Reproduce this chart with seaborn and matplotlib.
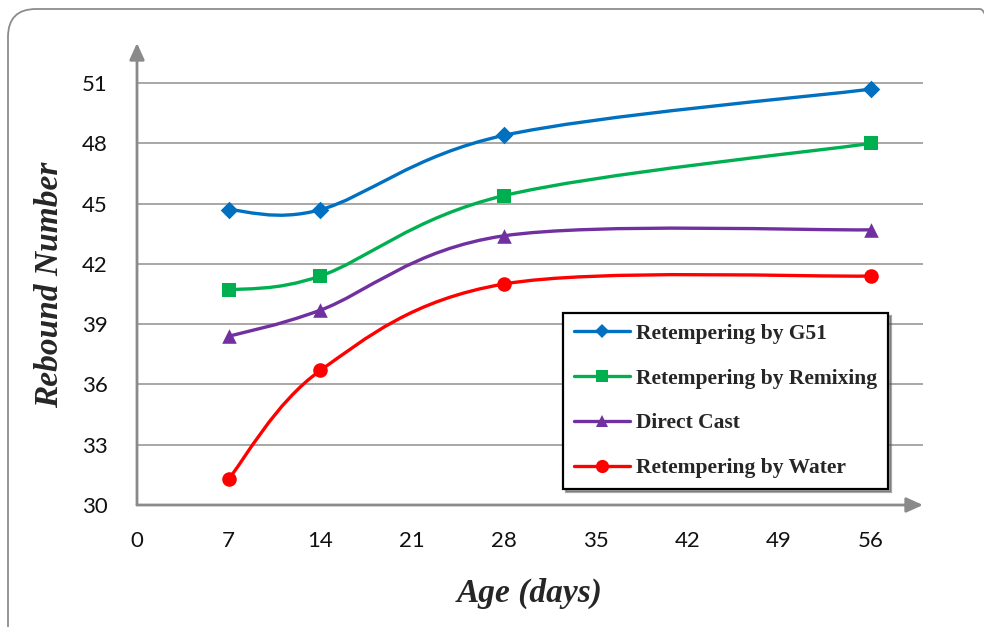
import numpy as np
import pandas as pd
import matplotlib
matplotlib.use("Agg")
import matplotlib.pyplot as plt
import seaborn as sns
from matplotlib.path import Path
from matplotlib.patches import PathPatch, FancyBboxPatch
from matplotlib.lines import Line2D

# ---- data ----
ages = [7, 14, 28, 56]
g51 = [44.7, 44.7, 48.4, 50.7]
remixing = [40.7, 41.4, 45.4, 48.0]
direct_cast = [38.4, 39.7, 43.4, 43.7]
water = [31.3, 36.7, 41.0, 41.4]

series_names = ["Retempering by G51", "Retempering by Remixing",
                "Direct Cast", "Retempering by Water"]
series_values = [g51, remixing, direct_cast, water]
colors = ["#0070C0", "#00B050", "#7030A0", "#FF0000"]
markers = ["D", "s", "^", "o"]
marker_area = [80, 90, 110, 110]
marker_sizes = [7.5, 8.5, 9, 9.5]

x_ticks = [0, 7, 14, 21, 28, 35, 42, 49, 56]
y_ticks = [30, 33, 36, 39, 42, 45, 48, 51]

sns.set_style("white")
plt.rcParams["font.family"] = ["Lato", "DejaVu Sans"]

fig = plt.figure(figsize=(9.84, 6.27), dpi=100)
ax = fig.add_axes([137 / 984, 1 - 505 / 627, (923 - 137) / 984, (505 - 43) / 627])

# rounded outer frame
frame = FancyBboxPatch((0.08, -0.4), 10.0, 6.18 + 0.4,
                       boxstyle="round,pad=0,rounding_size=0.28",
                       transform=fig.dpi_scale_trans, fill=False,
                       edgecolor="#8c8c8c", linewidth=1.3, zorder=0)
fig.patches.append(frame)


def smooth_path(xs, ys):
    """Excel-like smoothed curve as cubic Bezier segments through the points."""
    pts = np.column_stack([xs, ys]).astype(float)
    n = len(pts)
    verts = [tuple(pts[0])]
    codes = [Path.MOVETO]
    for i in range(n - 1):
        p0 = pts[i - 1] if i > 0 else pts[i]
        p1 = pts[i]
        p2 = pts[i + 1]
        p3 = pts[i + 2] if i + 2 < n else pts[i + 1]
        c1 = p1 + (p2 - p0) / 6.0
        c2 = p2 - (p3 - p1) / 6.0
        verts += [tuple(c1), tuple(c2), tuple(p2)]
        codes += [Path.CURVE4] * 3
    return Path(verts, codes)


for name, vals, col, mk, area in zip(series_names, series_values, colors,
                                      markers, marker_area):
    ax.add_patch(PathPatch(smooth_path(ages, vals), fill=False,
                           edgecolor=col, linewidth=2.4, zorder=3,
                           capstyle="round"))
    d = pd.DataFrame({"Age": ages, "Rebound": vals})
    sns.scatterplot(data=d, x="Age", y="Rebound", color=col, marker=mk,
                    s=area, linewidth=0, ax=ax, legend=False, zorder=4)

ax.set_xlim(0, 60)
ax.set_ylim(30, 53)
ax.set_xticks(x_ticks)
ax.set_yticks(y_ticks)
ax.set_xticklabels([str(t) for t in x_ticks])
ax.set_yticklabels([str(t) for t in y_ticks])
ax.set_xlabel("")
ax.set_ylabel("")

for yv in y_ticks[1:]:
    ax.axhline(yv, color="#a0a0a0", linewidth=1.3, zorder=1)

for s in ax.spines.values():
    s.set_visible(False)

axis_col = "#8a8a8a"
ax.annotate("", xy=(1.0, 0), xytext=(0, 0), xycoords="axes fraction",
            arrowprops=dict(arrowstyle="-|>,head_length=1.0,head_width=0.45",
                            color=axis_col, lw=2.0, shrinkA=0, shrinkB=0),
            zorder=2, annotation_clip=False)
ax.annotate("", xy=(0, 1.0), xytext=(0, 0), xycoords="axes fraction",
            arrowprops=dict(arrowstyle="-|>,head_length=1.0,head_width=0.45",
                            color=axis_col, lw=2.0, shrinkA=0, shrinkB=0),
            zorder=2, annotation_clip=False)

ax.tick_params(axis="x", direction="in", length=6, width=1.5, color=axis_col,
               pad=19, labelsize=16, labelcolor="#111111")
ax.tick_params(axis="y", length=0, pad=21, labelsize=16, labelcolor="#111111")

fig.text(50 / 984, 1 - 285 / 627, "Rebound Number", rotation=90,
         ha="center", va="center", family="Liberation Serif",
         fontweight="bold", fontstyle="italic", fontsize=24)
fig.text(530 / 984, 1 - 593 / 627, "Age (days)", ha="center", va="center",
         family="Liberation Serif", fontweight="bold", fontstyle="italic",
         fontsize=24)

handles = [Line2D([], [], color=c, marker=m, markersize=ms, linewidth=2.4,
                  markeredgewidth=0)
           for c, m, ms in zip(colors, markers, marker_sizes)]
leg = ax.legend(handles, series_names, loc="upper left",
                bbox_to_anchor=((563 - 137) / 786, (505 - 313) / 462),
                prop=dict(family="Liberation Serif", weight="bold", size=15.5),
                frameon=True, fancybox=False, edgecolor="black",
                framealpha=1, handlelength=2.6, handletextpad=0.3,
                labelspacing=1.15, borderpad=0.5, borderaxespad=0,
                shadow={"color": "#555555", "alpha": 0.5})
leg.get_frame().set_linewidth(1.6)
leg.set_zorder(6)

fig.savefig("out.png", dpi=100)
